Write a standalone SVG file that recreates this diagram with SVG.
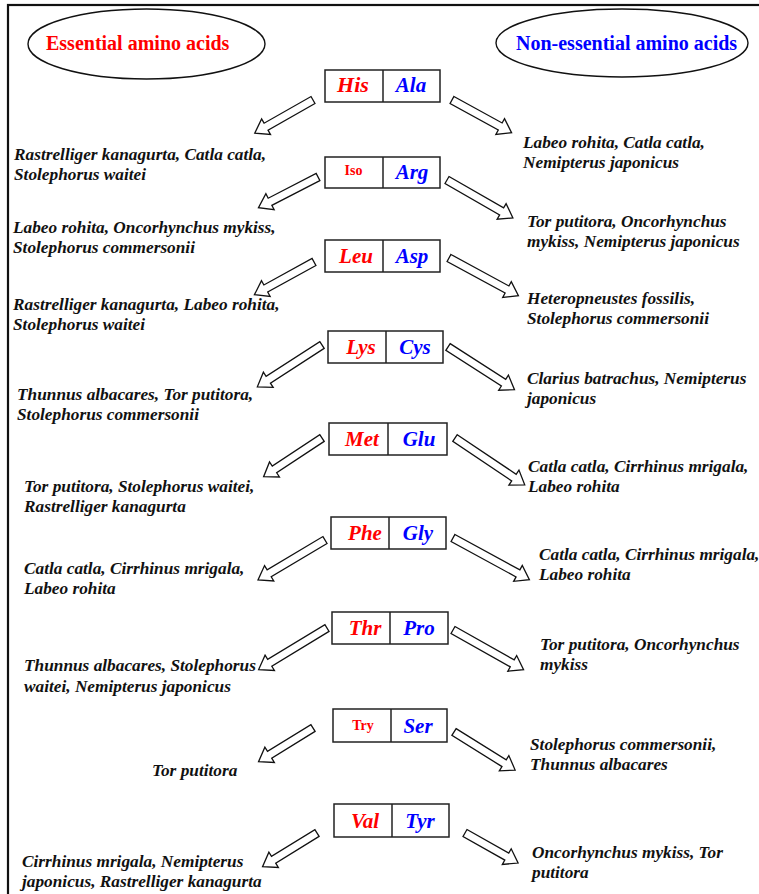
<svg xmlns="http://www.w3.org/2000/svg" width="759" height="894" viewBox="0 0 759 894">
<style>
.frame{fill:none;stroke:#111;stroke-width:2.2}
.ell{fill:#fff;stroke:#111;stroke-width:1.4}
.box{fill:#fff;stroke:#222;stroke-width:1.5}
.arr{fill:#fff;stroke:#111;stroke-width:1.3;stroke-linejoin:miter}
.red{fill:#ff0000}
.blue{fill:#0000ff}
.sp{fill:#111}
</style>
<rect x="0" y="0" width="759" height="894" fill="#fff"/>
<rect class="frame" x="8" y="5" width="770" height="910"/>

<g id="essential">
<ellipse class="ell" cx="146.5" cy="44" rx="118.5" ry="35"/>
<text class="red" font-family="Liberation Serif" font-weight="bold" font-size="20" x="46" y="50">Essential amino acids</text>
</g>
<g id="nonessential">
<ellipse class="ell" cx="622" cy="43" rx="126" ry="34"/>
<text class="blue" font-family="Liberation Serif" font-weight="bold" font-size="20" x="516" y="50">Non-essential amino acids</text>
</g>

<g id="row-his">
<rect class="box" x="325" y="70" width="115" height="32"/><line class="box" x1="383" y1="70" x2="383" y2="102"/>
<text class="red" font-family="Liberation Serif" font-weight="bold" font-style="italic" font-size="22" text-anchor="middle" x="353" y="92">His</text>
<text class="blue" font-family="Liberation Serif" font-weight="bold" font-style="italic" font-size="21" text-anchor="middle" x="411" y="92">Ala</text>
</g>
<g id="row-iso">
<rect class="box" x="325" y="157" width="115" height="31"/><line class="box" x1="383" y1="157" x2="383" y2="188"/>
<text class="red" font-family="Liberation Serif" font-weight="bold" font-size="14" text-anchor="middle" x="353.5" y="175">Iso</text>
<text class="blue" font-family="Liberation Serif" font-weight="bold" font-style="italic" font-size="21" text-anchor="middle" x="412" y="179">Arg</text>
</g>
<g id="row-leu">
<rect class="box" x="325" y="240" width="115" height="32"/><line class="box" x1="383" y1="240" x2="383" y2="272"/>
<text class="red" font-family="Liberation Serif" font-weight="bold" font-style="italic" font-size="21" text-anchor="middle" x="356" y="263">Leu</text>
<text class="blue" font-family="Liberation Serif" font-weight="bold" font-style="italic" font-size="21" text-anchor="middle" x="412" y="263">Asp</text>
</g>
<g id="row-lys">
<rect class="box" x="328" y="331" width="115" height="32"/><line class="box" x1="386" y1="331" x2="386" y2="363"/>
<text class="red" font-family="Liberation Serif" font-weight="bold" font-style="italic" font-size="21" text-anchor="middle" x="361" y="354">Lys</text>
<text class="blue" font-family="Liberation Serif" font-weight="bold" font-style="italic" font-size="21" text-anchor="middle" x="415" y="354">Cys</text>
</g>
<g id="row-met">
<rect class="box" x="329" y="423" width="118" height="32"/><line class="box" x1="388" y1="423" x2="388" y2="455"/>
<text class="red" font-family="Liberation Serif" font-weight="bold" font-style="italic" font-size="21" text-anchor="middle" x="362" y="446">Met</text>
<text class="blue" font-family="Liberation Serif" font-weight="bold" font-style="italic" font-size="21" text-anchor="middle" x="419" y="446">Glu</text>
</g>
<g id="row-phe">
<rect class="box" x="331" y="517" width="115" height="32"/><line class="box" x1="389" y1="517" x2="389" y2="549"/>
<text class="red" font-family="Liberation Serif" font-weight="bold" font-style="italic" font-size="21" text-anchor="middle" x="365" y="540">Phe</text>
<text class="blue" font-family="Liberation Serif" font-weight="bold" font-style="italic" font-size="21" text-anchor="middle" x="418" y="540">Gly</text>
</g>
<g id="row-thr">
<rect class="box" x="332" y="612" width="116" height="32"/><line class="box" x1="390" y1="612" x2="390" y2="644"/>
<text class="red" font-family="Liberation Serif" font-weight="bold" font-style="italic" font-size="21" text-anchor="middle" x="365" y="635">Thr</text>
<text class="blue" font-family="Liberation Serif" font-weight="bold" font-style="italic" font-size="21" text-anchor="middle" x="419" y="635">Pro</text>
</g>
<g id="row-try">
<rect class="box" x="333" y="709" width="114" height="33"/><line class="box" x1="391" y1="709" x2="391" y2="742"/>
<text class="red" font-family="Liberation Serif" font-weight="bold" font-size="14" text-anchor="middle" x="363" y="730">Try</text>
<text class="blue" font-family="Liberation Serif" font-weight="bold" font-style="italic" font-size="21" text-anchor="middle" x="418" y="733">Ser</text>
</g>
<g id="row-val">
<rect class="box" x="334" y="804" width="115" height="33"/><line class="box" x1="392" y1="804" x2="392" y2="837"/>
<text class="red" font-family="Liberation Serif" font-weight="bold" font-style="italic" font-size="21" text-anchor="middle" x="365" y="828">Val</text>
<text class="blue" font-family="Liberation Serif" font-weight="bold" font-style="italic" font-size="21" text-anchor="middle" x="420" y="828">Tyr</text>
</g>

<g id="connectors">
<path class="arr" transform="translate(313,100) rotate(150.4)" d="M0,-4 L54,-4 L54,-9 L67,0 L54,9 L54,4 L0,4 Z"/>
<path class="arr" transform="translate(452,100) rotate(28.8)" d="M0,-4 L55,-4 L55,-9 L68,0 L55,9 L55,4 L0,4 Z"/>
<path class="arr" transform="translate(318,177) rotate(152.7)" d="M0,-4 L54,-4 L54,-9 L67,0 L54,9 L54,4 L0,4 Z"/>
<path class="arr" transform="translate(447,180) rotate(29.9)" d="M0,-4 L63,-4 L63,-9 L76,0 L63,9 L63,4 L0,4 Z"/>
<path class="arr" transform="translate(314,262) rotate(151.2)" d="M0,-4 L55,-4 L55,-9 L68,0 L55,9 L55,4 L0,4 Z"/>
<path class="arr" transform="translate(449,258) rotate(28.5)" d="M0,-4 L66,-4 L66,-9 L79,0 L66,9 L66,4 L0,4 Z"/>
<path class="arr" transform="translate(322,345) rotate(147.1)" d="M0,-4 L64,-4 L64,-9 L77,0 L64,9 L64,4 L0,4 Z"/>
<path class="arr" transform="translate(448,347) rotate(32.7)" d="M0,-4 L66,-4 L66,-9 L79,0 L66,9 L66,4 L0,4 Z"/>
<path class="arr" transform="translate(322,438) rotate(146.5)" d="M0,-4 L57,-4 L57,-9 L70,0 L57,9 L57,4 L0,4 Z"/>
<path class="arr" transform="translate(455,438) rotate(33.9)" d="M0,-4 L71,-4 L71,-9 L84,0 L71,9 L71,4 L0,4 Z"/>
<path class="arr" transform="translate(325,540) rotate(149.2)" d="M0,-4 L65,-4 L65,-9 L78,0 L65,9 L65,4 L0,4 Z"/>
<path class="arr" transform="translate(453,538) rotate(28.6)" d="M0,-4 L74,-4 L74,-9 L87,0 L74,9 L74,4 L0,4 Z"/>
<path class="arr" transform="translate(327,628) rotate(148.7)" d="M0,-4 L67,-4 L67,-9 L80,0 L67,9 L67,4 L0,4 Z"/>
<path class="arr" transform="translate(453,630) rotate(29.4)" d="M0,-4 L68,-4 L68,-9 L81,0 L68,9 L68,4 L0,4 Z"/>
<path class="arr" transform="translate(313,728) rotate(148.3)" d="M0,-4 L51,-4 L51,-9 L64,0 L51,9 L51,4 L0,4 Z"/>
<path class="arr" transform="translate(454,732) rotate(31.9)" d="M0,-4 L59,-4 L59,-9 L72,0 L59,9 L59,4 L0,4 Z"/>
<path class="arr" transform="translate(317,833) rotate(148.3)" d="M0,-4 L51,-4 L51,-9 L64,0 L51,9 L51,4 L0,4 Z"/>
<path class="arr" transform="translate(465,833) rotate(29.5)" d="M0,-4 L48,-4 L48,-9 L61,0 L48,9 L48,4 L0,4 Z"/>
</g>

<g id="species-left" font-family="Liberation Serif" font-weight="bold" font-style="italic" font-size="17.3">
<text class="sp" font-family="Liberation Serif" x="14" y="160">Rastrelliger kanagurta, Catla catla,</text>
<text class="sp" font-family="Liberation Serif" x="14" y="180">Stolephorus waitei</text>
<text class="sp" font-family="Liberation Serif" x="13" y="233">Labeo rohita, Oncorhynchus mykiss,</text>
<text class="sp" font-family="Liberation Serif" x="13" y="253">Stolephorus commersonii</text>
<text class="sp" font-family="Liberation Serif" x="13" y="310">Rastrelliger kanagurta, Labeo rohita,</text>
<text class="sp" font-family="Liberation Serif" x="13" y="330">Stolephorus waitei</text>
<text class="sp" font-family="Liberation Serif" x="17" y="400">Thunnus albacares, Tor putitora,</text>
<text class="sp" font-family="Liberation Serif" x="17" y="420">Stolephorus commersonii</text>
<text class="sp" font-family="Liberation Serif" x="24" y="492">Tor putitora, Stolephorus waitei,</text>
<text class="sp" font-family="Liberation Serif" x="24" y="512">Rastrelliger kanagurta</text>
<text class="sp" font-family="Liberation Serif" x="24" y="574">Catla catla, Cirrhinus mrigala,</text>
<text class="sp" font-family="Liberation Serif" x="24" y="594">Labeo rohita</text>
<text class="sp" font-family="Liberation Serif" x="24" y="671">Thunnus albacares, Stolephorus</text>
<text class="sp" font-family="Liberation Serif" x="24" y="692">waitei, Nemipterus japonicus</text>
<text class="sp" font-family="Liberation Serif" x="152" y="776">Tor putitora</text>
<text class="sp" font-family="Liberation Serif" x="22" y="867">Cirrhinus mrigala, Nemipterus</text>
<text class="sp" font-family="Liberation Serif" x="22" y="887">japonicus, Rastrelliger kanagurta</text>
</g>
<g id="species-right" font-family="Liberation Serif" font-weight="bold" font-style="italic" font-size="17.3">
<text class="sp" font-family="Liberation Serif" x="523" y="148">Labeo rohita, Catla catla,</text>
<text class="sp" font-family="Liberation Serif" x="523" y="168">Nemipterus japonicus</text>
<text class="sp" font-family="Liberation Serif" x="527" y="227">Tor putitora, Oncorhynchus</text>
<text class="sp" font-family="Liberation Serif" x="527" y="247">mykiss, Nemipterus japonicus</text>
<text class="sp" font-family="Liberation Serif" x="527" y="304">Heteropneustes fossilis,</text>
<text class="sp" font-family="Liberation Serif" x="527" y="324">Stolephorus commersonii</text>
<text class="sp" font-family="Liberation Serif" x="527" y="384">Clarius batrachus, Nemipterus</text>
<text class="sp" font-family="Liberation Serif" x="527" y="404">japonicus</text>
<text class="sp" font-family="Liberation Serif" x="528" y="472">Catla catla, Cirrhinus mrigala,</text>
<text class="sp" font-family="Liberation Serif" x="528" y="492">Labeo rohita</text>
<text class="sp" font-family="Liberation Serif" x="539" y="560">Catla catla, Cirrhinus mrigala,</text>
<text class="sp" font-family="Liberation Serif" x="539" y="580">Labeo rohita</text>
<text class="sp" font-family="Liberation Serif" x="540" y="650">Tor putitora, Oncorhynchus</text>
<text class="sp" font-family="Liberation Serif" x="540" y="670">mykiss</text>
<text class="sp" font-family="Liberation Serif" x="530" y="750">Stolephorus commersonii,</text>
<text class="sp" font-family="Liberation Serif" x="530" y="770">Thunnus albacares</text>
<text class="sp" font-family="Liberation Serif" x="532" y="858">Oncorhynchus mykiss, Tor</text>
<text class="sp" font-family="Liberation Serif" x="532" y="878">putitora</text>
</g>
</svg>
